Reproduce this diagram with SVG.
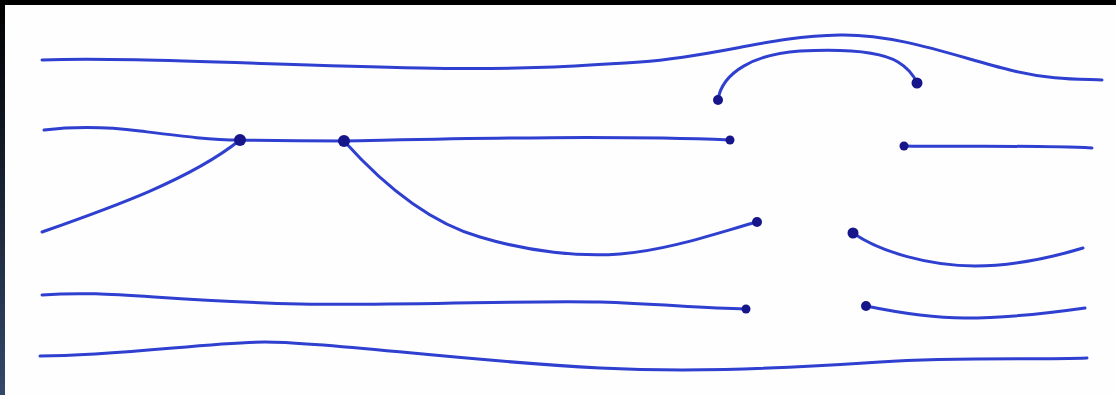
<svg xmlns="http://www.w3.org/2000/svg" width="1116" height="395" viewBox="0 0 1116 395">
<defs>
<linearGradient id="edge" x1="0" y1="0" x2="0" y2="1">
<stop offset="0" stop-color="#000000"/>
<stop offset="1" stop-color="#34486a"/>
</linearGradient>
<style>
.ln{fill:none;stroke:#2f3fcf;stroke-width:3;stroke-linecap:round;stroke-linejoin:round}
.dot{fill:#16168a}
</style>
</defs>
<rect x="0" y="0" width="1116" height="395" fill="#fefefe"/>
<rect x="0" y="0" width="1116" height="5" fill="#000"/>
<rect x="0" y="0" width="5" height="395" fill="url(#edge)"/>
<g id="connectors">
<path class="ln" d="M42,60 C120,57 250,64 420,68 C520,70 580,66 640,62 C720,56 770,36 840,35 C900,34 960,58 1010,70 C1050,80 1080,79 1102,80"/>
<path class="ln" d="M718,100 C722,72 755,54 800,51 C840,49 880,51 898,62 C908,68 914,76 917,83"/>
<path class="ln" d="M44,130 C70,127 100,126 140,131 C180,136 210,140 240,140 C290,141 320,141 344,141 C450,139 600,135 730,140"/>
<path class="ln" d="M904,146 C960,147 1030,145 1092,148"/>
<path class="ln" d="M42,232 C110,208 190,180 240,140"/>
<path class="ln" d="M344,141 C370,170 420,220 480,237 C530,252 580,257 620,254 C670,250 720,232 757,222"/>
<path class="ln" d="M853,233 C880,252 930,266 975,266 C1020,266 1060,255 1083,248"/>
<path class="ln" d="M42,295 C110,290 150,300 300,304 C420,306 520,300 600,302 C660,304 700,308 746,309"/>
<path class="ln" d="M866,306 C900,313 930,318 965,318 C1010,318 1050,313 1085,308"/>
<path class="ln" d="M40,356 C120,356 210,342 265,342 C330,342 450,360 600,368 C680,372 760,370 880,362 C960,357 1040,360 1087,358"/>
</g>
<g id="dot1"><circle class="dot" cx="240" cy="140" r="6"/></g>
<g id="dot2"><circle class="dot" cx="344" cy="141" r="6"/></g>
<g id="dot3"><circle class="dot" cx="718" cy="100" r="5"/></g>
<g id="dot4"><circle class="dot" cx="917" cy="83" r="5.5"/></g>
<g id="dot5"><circle class="dot" cx="730" cy="140" r="4.5"/></g>
<g id="dot6"><circle class="dot" cx="904" cy="146" r="4.5"/></g>
<g id="dot7"><circle class="dot" cx="757" cy="222" r="5"/></g>
<g id="dot8"><circle class="dot" cx="853" cy="233" r="5.5"/></g>
<g id="dot9"><circle class="dot" cx="746" cy="309" r="4.5"/></g>
<g id="dot10"><circle class="dot" cx="866" cy="306" r="5"/></g>
</svg>
